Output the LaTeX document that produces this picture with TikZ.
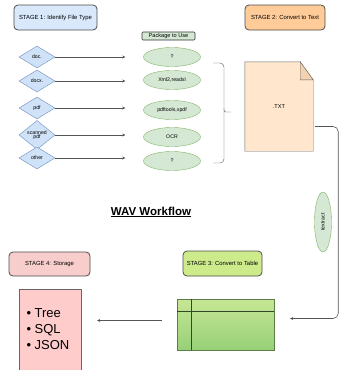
\documentclass[tikz,border=0pt]{standalone}
\usepackage{fontspec}
\setmainfont{Liberation Sans}
\usetikzlibrary{arrows.meta,positioning,shapes.geometric}
\definecolor{stageblue}{HTML}{DAE8FC}
\definecolor{typeblue}{HTML}{CFE2F7}
\definecolor{typeedge}{HTML}{6C8EBF}
\definecolor{pkggreen}{HTML}{D5E8D4}
\definecolor{pkgedge}{HTML}{82B366}
\definecolor{stageorange}{HTML}{FFCC99}
\definecolor{txtpeach}{HTML}{FFE6CC}
\definecolor{txtfold}{HTML}{F2D2B0}
\definecolor{stagelime}{HTML}{CDEB8B}
\definecolor{tabletop}{HTML}{C6E795}
\definecolor{tablebottom}{HTML}{97D077}
\definecolor{stagepink}{HTML}{F8CECC}
\definecolor{storepink}{HTML}{FFCCCC}
\definecolor{lineGray}{HTML}{555555}
\tikzset{
  stage box/.style={
    rectangle, rounded corners=4pt, draw=black!70, thick,
    inner sep=1pt, font=\fontsize{5.9}{7}\selectfont
  },
  file type/.style={
    diamond, draw=typeedge, fill=typeblue, inner sep=0pt, align=center,
    minimum width=36pt, minimum height=22pt,
    font=\fontsize{5.2}{5.5}\selectfont
  },
  package/.style={
    ellipse, draw=pkgedge, fill=pkggreen, inner sep=0pt,
    minimum width=57pt, minimum height=19pt,
    font=\fontsize{5.2}{6}\selectfont
  },
  flow arrow/.style={-{Stealth[length=3pt,width=3pt]}, lineGray, semithick}
}

\begin{document}
\begin{tikzpicture}[x=1pt,y=-1pt]
    \useasboundingbox (0,0) rectangle (341,370);
    % stage headers
    \node[stage box, fill=stageblue, minimum width=83pt, minimum height=25pt] (stage1) at (55.5,17.5) {STAGE 1: Identify File Type};
    \node[stage box, fill=stageorange, minimum width=80pt, minimum height=25pt] (stage2) at (285,17.5) {STAGE 2: Convert to Text};
    \node[stage box, fill=stagelime, minimum width=79pt, minimum height=25pt] (stage3) at (222.5,263.5) {STAGE 3: Convert to Table};
    \node[stage box, fill=stagepink, minimum width=81pt, minimum height=24pt] (stage4) at (49.5,264) {STAGE 4: Storage};

    % file types and packages
    \node[rectangle, draw=black!80, fill=pkggreen, rounded corners=1pt, semithick,
      minimum width=53pt, minimum height=8pt, inner sep=0pt,
      font=\fontsize{5.6}{6}\selectfont] (pkghead) at (168.5,36) {Package to Use};
    \node[file type] (doc) at (37,57) {doc.};
    \node[file type] (docx) at (37,81) {docx.};
    \node[file type] (pdf) at (37,108) {pdf};
    \node[file type] (scanned) at (37,135) {scanned\\[-1pt]pdf};
    \node[file type] (other) at (37,158) {other};
    \node[package] (pkgdoc) at (172,57) {?};
    \node[package] (pkgdocx) at (172,80) {Xml2,readxl};
    \node[package] (pkgpdf) at (172,110) {pdftools,xpdf};
    \node[package] (pkgscan) at (172,137) {OCR};
    \node[package] (pkgother) at (172,161) {?};
    \foreach \ft in {doc,docx,pdf,scanned,other}
      \draw[flow arrow, shorten >=18pt] (\ft.east) -- (\ft -| pkgdoc.west);

    % brace
    \draw[lineGray, rounded corners=4pt] (213,63) -- (224,63) -- (224,112) -- (224,163) -- (213,163);
    \draw[lineGray, rounded corners=2pt] (224,108) -- (224,112) -- (231,112);

    % text document
    \node[minimum width=68pt, minimum height=89pt] (txt) at (279,106.5) {};
    \filldraw[draw=black!60, fill=txtpeach] (txt.north west) -- ([xshift=-13pt]txt.north east)
      -- ([yshift=-18pt]txt.north east) -- (txt.south east) -- (txt.south west) -- cycle;
    \filldraw[draw=black!60, fill=txtfold] ([xshift=-13pt]txt.north east) -- ([xshift=-13pt,yshift=-18pt]txt.north east)
      -- ([yshift=-18pt]txt.north east) -- cycle;
    \node[font=\fontsize{5.6}{6}\selectfont] (txtlabel) at (txt) {.TXT};

    \node[ellipse, draw=pkgedge, fill=pkggreen, minimum width=17pt, minimum height=60pt, inner sep=0pt] (textract) at (323,222) {};
    \node[rotate=90, font=\fontsize{5.2}{6}\selectfont] at (textract) {textract};

    \node[font=\fontsize{11.5}{13}\selectfont\bfseries] (title) at (151,212) {\underline{WAV Workflow}};

    % table
    \node[rectangle, draw=pkgedge!70!black, top color=tabletop, bottom color=tablebottom,
      minimum width=97pt, minimum height=51pt] (tbl) at (225.5,324.5) {};
    \draw[pkgedge!40!black] ([yshift=-12pt]tbl.north west) -- ([yshift=-12pt]tbl.north east);
    \draw[pkgedge!40!black] ([xshift=14pt]tbl.north west) -- ([xshift=14pt]tbl.south west);

    % storage
    \node[rectangle, draw=black!60, fill=storepink, minimum width=62pt, minimum height=85pt,
      anchor=north] (store) at (50,289) {};
    \node[align=left, font=\fontsize{13}{16}\selectfont, anchor=north west] (storelist) at (23,305)
      {\textbullet\ Tree\\ \textbullet\ SQL\\ \textbullet\ JSON};

    % flow connectors
    \draw[flow arrow, rounded corners=5pt, shorten >=16pt] ([xshift=2pt,yshift=-20pt]txt.east) -- ++(23,0)
      |- ([yshift=6pt]tbl.east);
    \draw[flow arrow, shorten <=15pt, shorten >=16pt] ([yshift=4pt]tbl.west) -- ([yshift=4pt]tbl.west -| store.east);
\end{tikzpicture}
\end{document}
